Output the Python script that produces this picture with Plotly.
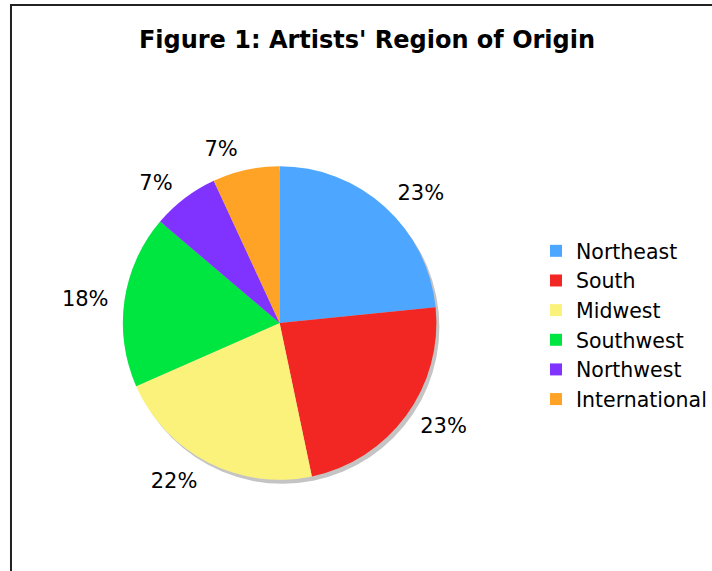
import plotly.graph_objects as go

W, H = 712, 571

regions = ["Northeast", "South", "Midwest", "Southwest", "Northwest", "International"]
shares = [23.4, 23.3, 21.7, 17.8, 6.9, 6.9]
colors = ["#4DA6FF", "#F22622", "#FBF27C", "#00E640", "#8033FF", "#FFA327"]
title_text = "Figure 1: Artists' Region of Origin"

# pie geometry (pixels)
cx, cy, r = 280, 323, 157
def dom(rad, ox=0, oy=0):
    return dict(x=[(cx - rad + ox) / W, (cx + rad + ox) / W],
                y=[(H - cy - rad - oy) / H, (H - cy + rad - oy) / H])

fig = go.Figure()
# drop shadow
fig.add_trace(go.Pie(
    values=[1], labels=["shadow"], marker=dict(colors=["#C4C4C4"], line=dict(width=0)),
    textinfo="none", showlegend=False, hoverinfo="skip", sort=False,
    domain=dom(r, 3, 4),
))
# transparent slightly larger pie that carries the outside percentage labels
fig.add_trace(go.Pie(
    labels=regions, values=shares, sort=False, direction="clockwise", rotation=0,
    marker=dict(colors=["rgba(0,0,0,0)"] * len(regions), line=dict(width=0)),
    texttemplate="%{percent:.0%}", textposition="outside",
    outsidetextfont=dict(family="DejaVu Sans", size=21, color="#000000"),
    showlegend=False, hoverinfo="skip",
    domain=dom(r + 10),
))
# visible pie
fig.add_trace(go.Pie(
    labels=regions, values=shares, sort=False, direction="clockwise", rotation=0,
    marker=dict(colors=colors, line=dict(width=0)),
    textinfo="none",
    domain=dom(r),
))

fig.update_layout(
    width=W, height=H,
    margin=dict(l=0, r=0, t=0, b=0),
    paper_bgcolor="white", plot_bgcolor="white",
    title=dict(text=title_text, x=367 / W, xanchor="center", y=1 - 40 / H, yanchor="middle",
               font=dict(family="DejaVu Sans", size=24, color="#000000", weight="bold")),
    legend=dict(x=537 / W, xanchor="left", y=1 - 231 / H, yanchor="top",
                font=dict(family="DejaVu Sans", size=20.5, color="#000000"),
                bgcolor="rgba(0,0,0,0)", traceorder="normal"),
    shapes=[dict(type="rect", xref="paper", yref="paper",
                 x0=11 / W, x1=1.05, y0=-0.05, y1=1 - 5 / H,
                 line=dict(color="#222222", width=2), fillcolor="rgba(0,0,0,0)")],
)

fig.write_html("out.html")
